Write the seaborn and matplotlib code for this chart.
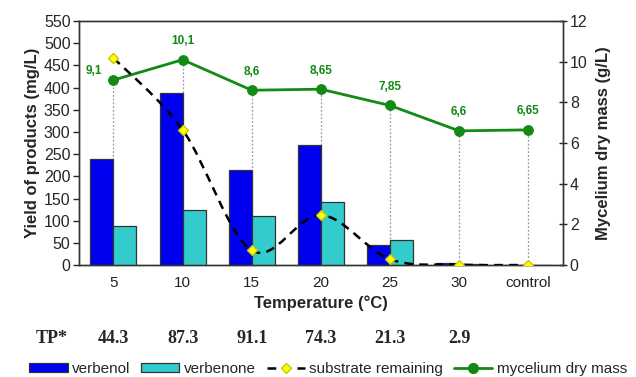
import numpy as np
import pandas as pd
import seaborn as sns
import matplotlib.pyplot as plt
from matplotlib.path import Path
from matplotlib.patches import PathPatch, Patch
from matplotlib.lines import Line2D

# values
temps = ["5", "10", "15", "20", "25", "30", "control"]
verbenol = [240, 388, 215, 270, 46, 5, 0]
verbenone = [88, 125, 110, 142, 57, 2, 0]
substrate = [467, 305, 33, 113, 13, 1, 0]          # mg/L, left axis
mycelium = [9.1, 10.1, 8.6, 8.65, 7.85, 6.6, 6.65]  # g/L, right axis
myc_labels = ["9,1", "10,1", "8,6", "8,65", "7,85", "6,6", "6,65"]
tp_values = ["44.3", "87.3", "91.1", "74.3", "21.3", "2.9"]

blue = "#0000f0"
cyan = "#33cccc"
green = "#138a13"

sns.set_theme(style="white")
plt.rcParams["font.family"] = ["Liberation Sans", "DejaVu Sans"]

df = pd.DataFrame({
    "temp": temps * 2,
    "yield": verbenol + verbenone,
    "compound": ["verbenol"] * 7 + ["verbenone"] * 7,
})

fig = plt.figure(figsize=(6.36, 3.77), dpi=100)
ax = fig.add_axes([0.124, 0.297, 0.761, 0.647])
ax2 = ax.twinx()

sns.barplot(data=df, x="temp", y="yield", hue="compound", order=temps,
            palette=[blue, cyan], width=0.667, saturation=1,
            edgecolor="#333333", linewidth=0.9, legend=False, ax=ax)

xs = np.arange(len(temps))

# grey drop lines from mycelium points
ax2.vlines(xs, 0, mycelium, colors="#9a9a9a", linestyles=(0, (1.5, 1.5)), linewidth=0.9, zorder=1)

# smoothed dashed substrate curve (bezier through the points)
pts = np.column_stack([xs, substrate]).astype(float)
ext = np.vstack([pts[0], pts, pts[-1]])
verts = [tuple(pts[0])]
codes = [Path.MOVETO]
for i in range(len(pts) - 1):
    p0, p1, p2, p3 = ext[i], ext[i + 1], ext[i + 2], ext[i + 3]
    c1 = p1 + (p2 - p0) / 6
    c2 = p2 - (p3 - p1) / 6
    verts += [tuple(c1), tuple(c2), tuple(p2)]
    codes += [Path.CURVE4] * 3
ax.add_patch(PathPatch(Path(verts, codes), facecolor="none", edgecolor="black",
                       linewidth=1.8, linestyle=(0, (3.5, 2.5)), zorder=4))
ax.plot(xs, substrate, linestyle="none", marker="D", markersize=5.5,
        markerfacecolor="#ffff00", markeredgecolor="#c8c800", zorder=5)

sns.lineplot(x=xs, y=mycelium, ax=ax2, color=green, linewidth=2, marker="o",
             markersize=7, markeredgecolor=green)
for i, (v, lab) in enumerate(zip(mycelium, myc_labels)):
    off = (-14, 2) if i == 0 else (0, 9)
    ax2.annotate(lab, (i, v), xytext=off, textcoords="offset points",
                 ha="center", va="bottom", color=green, fontsize=8.5, fontweight="bold")

ax.set_xlim(-0.5, len(temps) - 0.5)
ax.set_ylim(0, 550)
ax.set_yticks(range(0, 551, 50))
ax2.set_ylim(0, 12)
ax2.set_yticks(range(0, 13, 2))

ax.set_zorder(ax2.get_zorder() + 1)
ax.patch.set_visible(False)

ax.set_xticks(xs)
ax.set_xticklabels(temps)
ax.set_xticks(np.arange(-0.5, len(temps), 1), minor=True)
ax.tick_params(axis="x", which="major", length=0, pad=8, labelsize=11, colors="#222222")
ax.tick_params(axis="x", which="minor", length=4, direction="out", width=1, color="black")
ax.tick_params(axis="y", length=4, direction="out", width=1, labelsize=11.5, left=True, pad=2)
ax2.tick_params(axis="y", length=6, direction="inout", width=1, labelsize=11.5, right=True, pad=2)

for a in (ax, ax2):
    for s in a.spines.values():
        s.set_color("#333333")
        s.set_linewidth(1)

ax.set_xlabel("Temperature (°C)", fontsize=12, fontweight="bold", labelpad=4)
ax.set_ylabel("Yield of products (mg/L)", fontsize=12, fontweight="bold", labelpad=3)
ax2.set_ylabel("Mycelium dry mass (g/L)", fontsize=12, fontweight="bold", labelpad=6)

# TP row
fig.text(0.082, 0.101, "TP*", family=["Liberation Serif"], fontweight="bold",
         fontsize=13, ha="center", va="center")
for i, t in enumerate(tp_values):
    ax.annotate(t, xy=(i, 0), xycoords="data", xytext=(i, 0.101),
                textcoords=("data", "figure fraction"), family=["Liberation Serif"],
                fontweight="bold", fontsize=13, ha="center", va="center", annotation_clip=False)

handles = [
    Patch(facecolor=blue, edgecolor="#333333", linewidth=0.9),
    Patch(facecolor=cyan, edgecolor="#333333", linewidth=0.9),
    Line2D([], [], color="black", linestyle=(0, (3.5, 2.5)), linewidth=1.8, marker="D",
           markersize=5.5, markerfacecolor="#ffff00", markeredgecolor="#c8c800"),
    Line2D([], [], color=green, linewidth=2, marker="o", markersize=7),
]
fig.legend(handles, ["verbenol", "verbenone", "substrate remaining", "mycelium dry mass"],
           loc="center", bbox_to_anchor=(0.516, 0.022), ncol=4, frameon=False,
           fontsize=11, handlelength=2.5, handleheight=0.5, handletextpad=0.3,
           columnspacing=0.7)

fig.savefig("out.png", dpi=100)
